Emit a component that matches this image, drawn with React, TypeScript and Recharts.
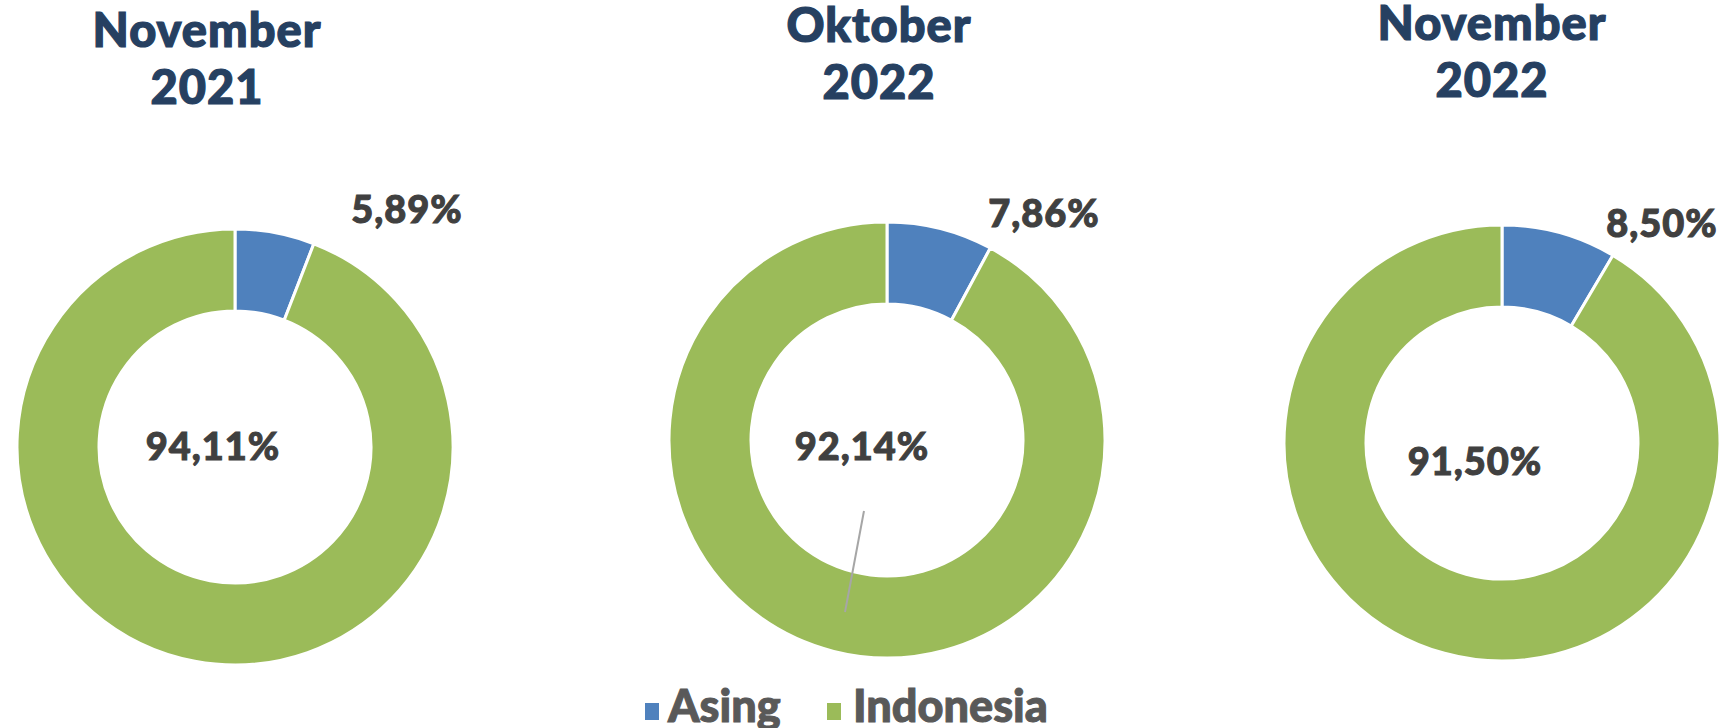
import { PieChart, Pie, Cell } from 'recharts'

const categories = ['Asing', 'Indonesia']
const titleMonths = ['November', 'Oktober', 'November']
const titleYears = ['2021', '2022', '2022']
const asingValues = [5.89, 7.86, 8.5]
const indonesiaValues = [94.11, 92.14, 91.5]

const COLORS = ['#4F81BD', '#9BBB59']
const FONT = 'Lato, "Noto Sans", sans-serif'

// layout of each donut: centre, title position and label offsets from the centre
const layout = [
  { cx: 235, cy: 447, tx: 207, ty: 47, asing: [172, -224], indo: [-22, 13], leader: null },
  { cx: 887, cy: 440, tx: 879, ty: 42, asing: [157, -213], indo: [-25, 20], leader: [-23, 71, -42, 172] },
  { cx: 1502, cy: 443, tx: 1492, ty: 40, asing: [160, -206], indo: [-27, 32], leader: null },
]

const fmt = (v: number) => v.toFixed(2).replace('.', ',') + '%'

const makeLabel = (i: number) => (props: any) => {
  const { cx, cy, index, value } = props
  const l = layout[i]
  const off = index === 0 ? l.asing : l.indo
  return (
    <g key={`lbl-${i}-${index}`}>
      {index === 1 && l.leader && (
        <line
          x1={cx + l.leader[0]}
          y1={cy + l.leader[1]}
          x2={cx + l.leader[2]}
          y2={cy + l.leader[3]}
          stroke="#A6A6A6"
          strokeWidth={2}
        />
      )}
      <text
        x={cx + off[0]}
        y={cy + off[1]}
        textAnchor="middle"
        fill="#404040"
        stroke="#404040"
        strokeWidth={1}
        fontFamily={FONT}
        fontWeight={900}
        fontSize={38}
        letterSpacing={1}
      >
        {fmt(value)}
      </text>
    </g>
  )
}

export default function App() {
  return (
    <div style={{ position: 'absolute', left: 0, top: 0, width: 1730, height: 728, background: '#fff' }}>
      <PieChart width={1730} height={728} margin={{ top: 0, right: 0, bottom: 0, left: 0 }}>
        {layout.map((l, i) => {
          const data = categories.map((name, k) => ({
            name,
            value: k === 0 ? asingValues[i] : indonesiaValues[i],
          }))
          return (
            <Pie
              key={i}
              data={data}
              dataKey="value"
              nameKey="name"
              cx={l.cx}
              cy={l.cy}
              innerRadius={136}
              outerRadius={218}
              startAngle={90}
              endAngle={-270}
              stroke="#fff"
              strokeWidth={3}
              label={makeLabel(i)}
              labelLine={false}
              isAnimationActive={false}
            >
              {data.map((d, k) => (
                <Cell key={d.name} fill={COLORS[k]} />
              ))}
            </Pie>
          )
        })}
        {layout.map((l, i) => (
          <text
            key={`t-${i}`}
            textAnchor="middle"
            fill="#264061"
            stroke="#264061"
            strokeWidth={1.2}
            fontFamily={FONT}
            fontWeight={900}
            fontSize={47}
            letterSpacing={1}
          >
            <tspan x={l.tx} y={l.ty}>{titleMonths[i]}</tspan>
            <tspan x={l.tx} y={l.ty + 57}>{titleYears[i]}</tspan>
          </text>
        ))}
        {categories.map((c, k) => (
          <g key={`lg-${c}`}>
            <rect x={k === 0 ? 645 : 827} y={703} width={14} height={17} fill={COLORS[k]} />
            <text
              x={k === 0 ? 668 : 853}
              y={722}
              fill="#595959"
              stroke="#595959"
              strokeWidth={1}
              fontFamily={FONT}
              fontWeight={900}
              fontSize={45}
            >
              {c}
            </text>
          </g>
        ))}
      </PieChart>
    </div>
  )
}
